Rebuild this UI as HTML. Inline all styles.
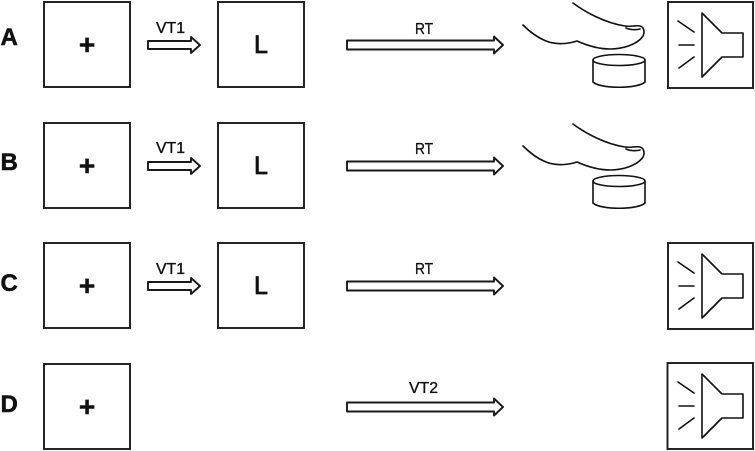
<!DOCTYPE html>
<html>
<head>
<meta charset="utf-8">
<style>
html,body{margin:0;padding:0;background:#fff;}
svg{display:block;}
text{font-family:"Liberation Sans",sans-serif;fill:#111;}
.box{fill:#fff;stroke:#1a1a1a;stroke-width:1.9;}
.ar{fill:#fff;stroke:#1a1a1a;stroke-width:1.9;stroke-linejoin:round;}
.ln{fill:none;stroke:#111;stroke-width:1.6;stroke-linecap:round;stroke-linejoin:round;}
.h{font-weight:bold;font-size:24px;stroke:#111;stroke-width:.5;}
.p{font-weight:bold;font-size:28px;text-anchor:middle;stroke:#111;stroke-width:.5;}
.l{font-size:25px;text-anchor:middle;stroke:#111;stroke-width:.8;}
.t{font-size:16px;stroke:#111;stroke-width:.35;}
</style>
</head>
<body>
<svg width="755" height="451" viewBox="0 0 755 451" xmlns="http://www.w3.org/2000/svg">

<!-- Row A -->
<text class="h" x="0.500" y="45">A</text>
<rect class="box" x="44" y="2" width="86" height="85"/>
<text class="p" x="87" y="54">+</text>
<path class="ar" d="M148 41H191V37L200 45L191 53V49H148Z"/>
<text class="t" x="156" y="33" textLength="29" lengthAdjust="spacingAndGlyphs">VT1</text>
<rect class="box" x="218" y="2" width="86" height="85"/>
<text class="l" x="261" y="53">L</text>
<path class="ar" d="M347 40.500H494V36.500L503 45L494 53.500V49.500H347Z"/>
<text class="t" x="415" y="34" textLength="18" lengthAdjust="spacingAndGlyphs">RT</text>
<g>
<path class="ln" d="M573 3C585 12 605 23 625 26C630 27 636 25 640 26C644 27 645 32 643 36C637 45 622 49 610 49C597 49 586 45 577 41C568 44 556 45 546 41C536 37 528 30 523 25"/>
<path class="ln" d="M626 28C630 30 636 30 640 29"/>
<ellipse class="ln" cx="619" cy="60" rx="26" ry="5.500"/>
<path class="ln" d="M593 60V82C600 89 638 89 645 82V60"/>
</g>
<rect class="box" x="668" y="2" width="85" height="86"/>
<path class="ln" d="M702 13L722 33H743V57H722L702 77Z"/>
<path class="ln" d="M678 21L694 32M679 45H694M679 68L694 57"/>

<!-- Row B -->
<text class="h" x="0.500" y="170">B</text>
<rect class="box" x="44" y="123" width="86" height="85"/>
<text class="p" x="87" y="175">+</text>
<path class="ar" d="M148 162H191V158L200 166L191 174V170H148Z"/>
<text class="t" x="156" y="153" textLength="29" lengthAdjust="spacingAndGlyphs">VT1</text>
<rect class="box" x="218" y="123" width="86" height="85"/>
<text class="l" x="261" y="174">L</text>
<path class="ar" d="M347 161.500H494V157.500L503 166L494 174.500V170.500H347Z"/>
<text class="t" x="415" y="154" textLength="18" lengthAdjust="spacingAndGlyphs">RT</text>
<g transform="translate(0,121)">
<path class="ln" d="M573 3C585 12 605 23 625 26C630 27 636 25 640 26C644 27 645 32 643 36C637 45 622 49 610 49C597 49 586 45 577 41C568 44 556 45 546 41C536 37 528 30 523 25"/>
<path class="ln" d="M626 28C630 30 636 30 640 29"/>
<ellipse class="ln" cx="619" cy="60" rx="26" ry="5.500"/>
<path class="ln" d="M593 60V82C600 89 638 89 645 82V60"/>
</g>

<!-- Row C -->
<text class="h" x="0.500" y="291">C</text>
<rect class="box" x="44" y="243" width="86" height="85"/>
<text class="p" x="87" y="295">+</text>
<path class="ar" d="M148 282H191V278L200 286L191 294V290H148Z"/>
<text class="t" x="156" y="274" textLength="29" lengthAdjust="spacingAndGlyphs">VT1</text>
<rect class="box" x="218" y="243" width="86" height="85"/>
<text class="l" x="261" y="294">L</text>
<path class="ar" d="M347 281.500H494V277.500L503 286L494 294.500V290.500H347Z"/>
<text class="t" x="415" y="274" textLength="18" lengthAdjust="spacingAndGlyphs">RT</text>
<g transform="translate(0,241)">
<rect class="box" x="668" y="2" width="85" height="86"/>
<path class="ln" d="M702 13L722 33H743V57H722L702 77Z"/>
<path class="ln" d="M678 21L694 32M679 45H694M679 68L694 57"/>
</g>

<!-- Row D -->
<text class="h" x="0.500" y="412">D</text>
<rect class="box" x="44" y="364" width="86" height="85"/>
<text class="p" x="87" y="416">+</text>
<path class="ar" d="M347 402.500H494V398.500L503 407L494 415.500V411.500H347Z"/>
<text class="t" x="409" y="393" textLength="29" lengthAdjust="spacingAndGlyphs">VT2</text>
<g transform="translate(0,361)">
<rect class="box" x="667.500" y="2" width="85.500" height="86"/>
<path class="ln" d="M702 13L722 33H743V57H722L702 77Z"/>
<path class="ln" d="M678 21L694 32M679 45H694M679 68L694 57"/>
</g>
</svg>
</body>
</html>
